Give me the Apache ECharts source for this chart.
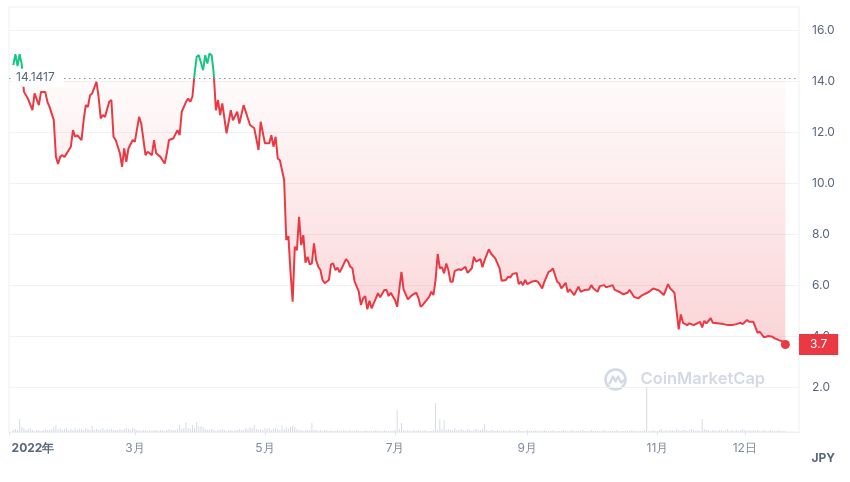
<!DOCTYPE html>
<html>
<head>
<meta charset="utf-8">
<script src="https://cdn.jsdelivr.net/npm/echarts@6/dist/echarts.min.js"></script>
<style>
html,body{margin:0;padding:0;background:#fff;}
#c{width:850px;height:482px;}
</style>
</head>
<body>
<div id="c"></div>
<script>
// ---- data ----
var priceDates = [
'2022-01-03','2022-01-04','2022-01-05','2022-01-06','2022-01-07','2022-01-08','2022-01-10','2022-01-12','2022-01-13','2022-01-15',
'2022-01-16','2022-01-18','2022-01-19','2022-01-20','2022-01-22','2022-01-23','2022-01-24','2022-01-25','2022-01-26','2022-01-27',
'2022-01-30','2022-01-31','2022-02-01','2022-02-02','2022-02-04','2022-02-05','2022-02-06','2022-02-07','2022-02-08','2022-02-09',
'2022-02-11','2022-02-12','2022-02-13','2022-02-14','2022-02-15','2022-02-17','2022-02-18','2022-02-19','2022-02-20','2022-02-22',
'2022-02-23','2022-02-24','2022-02-25','2022-02-26','2022-02-28','2022-03-01','2022-03-03','2022-03-04','2022-03-06','2022-03-07',
'2022-03-09','2022-03-10','2022-03-11','2022-03-13','2022-03-15','2022-03-16','2022-03-17','2022-03-19','2022-03-21','2022-03-22',
'2022-03-23','2022-03-25','2022-03-26','2022-03-27','2022-03-28','2022-03-29','2022-03-30','2022-03-31','2022-04-02','2022-04-03',
'2022-04-04','2022-04-05','2022-04-06','2022-04-07','2022-04-08','2022-04-09','2022-04-10','2022-04-11','2022-04-13','2022-04-15',
'2022-04-16','2022-04-18','2022-04-19','2022-04-21','2022-04-22','2022-04-24','2022-04-26','2022-04-28','2022-04-29','2022-05-01',
'2022-05-03','2022-05-04','2022-05-05','2022-05-06','2022-05-07','2022-05-08','2022-05-10','2022-05-11','2022-05-12','2022-05-13',
'2022-05-14','2022-05-15','2022-05-16','2022-05-17','2022-05-18','2022-05-19','2022-05-20','2022-05-21','2022-05-22','2022-05-23',
'2022-05-24','2022-05-25','2022-05-26','2022-05-27','2022-05-28','2022-05-29','2022-05-31','2022-06-01','2022-06-02','2022-06-03',
'2022-06-04','2022-06-05','2022-06-06','2022-06-08','2022-06-09','2022-06-10','2022-06-11','2022-06-12','2022-06-14','2022-06-15',
'2022-06-16','2022-06-17','2022-06-18','2022-06-19','2022-06-20','2022-06-22','2022-06-23','2022-06-24','2022-06-26','2022-06-27',
'2022-06-28','2022-06-29','2022-07-01','2022-07-02','2022-07-04','2022-07-05','2022-07-07','2022-07-09','2022-07-11','2022-07-12',
'2022-07-13','2022-07-14','2022-07-17','2022-07-18','2022-07-19','2022-07-20','2022-07-21','2022-07-22','2022-07-23','2022-07-24',
'2022-07-25','2022-07-26','2022-07-27','2022-07-28','2022-07-29','2022-07-31','2022-08-01','2022-08-03','2022-08-04','2022-08-06',
'2022-08-07','2022-08-08','2022-08-10','2022-08-11','2022-08-12','2022-08-14','2022-08-15','2022-08-17','2022-08-19','2022-08-20',
'2022-08-22','2022-08-23','2022-08-24','2022-08-25','2022-08-27','2022-08-28','2022-08-29','2022-08-30','2022-08-31','2022-09-01',
'2022-09-03','2022-09-05','2022-09-06','2022-09-08','2022-09-09','2022-09-11','2022-09-12','2022-09-13','2022-09-15','2022-09-16',
'2022-09-17','2022-09-19','2022-09-20','2022-09-21','2022-09-23','2022-09-25','2022-09-26','2022-09-28','2022-09-30','2022-10-01',
'2022-10-02','2022-10-04','2022-10-05','2022-10-07','2022-10-08','2022-10-11','2022-10-12','2022-10-14','2022-10-16','2022-10-18',
'2022-10-19','2022-10-21','2022-10-23','2022-10-25','2022-10-28','2022-10-30','2022-11-01','2022-11-02','2022-11-04','2022-11-06',
'2022-11-07','2022-11-09','2022-11-11','2022-11-12','2022-11-13','2022-11-15','2022-11-16','2022-11-18','2022-11-21','2022-11-22',
'2022-11-23','2022-11-24','2022-11-26','2022-11-27','2022-11-29','2022-12-02','2022-12-04','2022-12-06','2022-12-08','2022-12-10',
'2022-12-11','2022-12-13','2022-12-14','2022-12-16','2022-12-18','2022-12-19','2022-12-21','2022-12-23','2022-12-25','2022-12-26',
'2022-12-28','2022-12-30','2022-12-31'
];
var priceValues = [
14.64,15.07,14.6,15.07,14.66,13.6,13.3,12.87,13.53,13.07,
13.59,13.59,13.2,13.0,12.48,11.04,10.76,11.04,11.11,11.03,
11.44,12.09,11.83,11.89,11.7,12.48,13.07,13.0,13.46,13.53,
13.98,13.4,12.55,12.68,12.61,13.2,13.27,11.83,11.7,11.18,
10.65,11.37,10.85,11.37,11.7,11.63,12.61,12.35,11.11,11.24,
11.11,11.7,11.18,11.04,10.78,11.18,11.7,11.76,12.09,11.89,
12.81,13.2,13.33,13.2,13.4,14.3,14.97,15.03,14.44,15.03,
14.7,15.1,15.03,14.31,12.87,13.27,12.68,13.14,11.96,12.87,
12.48,12.81,12.35,13.07,12.81,12.29,12.16,11.31,12.42,11.57,
11.57,11.89,11.44,11.83,10.98,10.91,10.13,7.78,7.93,6.5,
5.36,7.51,7.38,8.69,7.58,7.97,6.89,7.12,6.82,6.86,
7.65,6.99,6.73,6.6,6.21,6.08,6.21,6.82,6.86,6.6,
6.69,6.51,6.67,7.03,6.93,6.73,6.67,6.17,5.75,5.23,
5.49,5.58,5.06,5.4,5.1,5.49,5.69,5.53,5.82,5.82,
5.58,5.71,5.42,5.16,6.53,5.84,5.45,5.62,5.71,5.49,
5.16,5.23,5.55,5.75,5.62,6.21,7.23,6.67,6.71,6.47,
6.86,6.6,6.14,6.14,6.57,6.63,6.6,6.73,6.49,6.67,
7.12,6.93,7.03,6.71,6.99,7.41,7.25,7.06,6.67,6.18,
6.21,6.34,6.3,6.44,6.49,6.05,6.14,6.01,6.21,6.05,
6.14,6.18,6.14,5.88,6.14,6.53,6.57,6.67,6.14,6.08,
5.88,6.1,5.73,5.84,5.62,5.95,5.75,5.82,5.84,6.01,
5.88,5.75,5.97,6.01,5.92,6.01,5.82,5.75,5.65,5.71,
5.82,5.55,5.49,5.62,5.74,5.88,5.82,5.78,5.62,6.05,
5.88,5.71,4.27,4.86,4.53,4.44,4.51,4.44,4.57,4.35,
4.61,4.51,4.71,4.53,4.51,4.48,4.44,4.44,4.48,4.53,
4.48,4.64,4.57,4.57,4.14,4.18,3.96,4.01,3.98,3.92,
3.85,3.79,3.68
];
var baselinePrice = 14.1417;

// daily volume (relative units), first bar on volumeStart
var volumeStart = '2022-01-03';
var volumes = [
2,3,2,13,5,4,2,3,4,
2,1,2,2,1,2,3,2,2,3,
5,7,3,4,2,3,4,2,3,2,
4,2,3,3,2,4,3,2,6,2,
3,2,3,4,2,3,2,3,2,2,
2,3,2,3,4,3,2,4,3,2,
2,1,2,2,1,2,1,2,2,1,
2,2,1,2,3,2,2,2,3,7,
3,4,10,4,3,7,4,10,6,6,
5,3,2,2,3,2,1,2,2,3,
2,1,2,2,1,2,2,3,2,2,
4,3,5,4,7,3,2,3,2,4,
3,4,2,3,4,3,2,7,3,5,
3,5,6,5,3,2,2,1,2,2,
2,9,2,2,1,2,1,2,2,1,
2,1,1,2,1,1,2,1,1,2,
1,1,2,1,1,1,2,1,1,1,
1,2,1,1,1,2,1,1,1,1,
2,22,3,9,2,1,2,1,1,2,
1,2,1,1,2,1,1,1,2,29,
2,13,3,12,2,3,2,2,4,2,
2,3,2,1,3,2,1,2,3,2,
2,3,8,2,1,2,2,1,2,1,
1,2,1,1,2,1,1,1,2,1,
1,1,2,1,1,1,2,1,1,1,
2,1,1,1,2,1,1,1,1,2,
1,1,1,2,1,1,1,1,2,1,
1,1,2,1,1,1,1,1,2,1,
1,1,1,1,2,1,1,1,1,1,
1,2,1,1,1,1,1,2,45,1,
1,2,1,1,2,3,1,2,1,2,
2,1,3,2,1,2,2,1,2,3,
2,1,2,1,13,3,2,2,1,2,
2,1,2,2,1,2,3,1,2,1,
2,1,2,3,2,1,2,1,2,1,
2,1,1,2,1,1,2,1,1,1,2,1,1,1
];

var xTickDates = ['2022-01-01','2022-03-01','2022-05-01','2022-07-01','2022-09-01','2022-11-01','2022-12-12'];
var xTickLabels = ['2022年','3月','5月','7月','9月','11月','12日'];

// ---- build ----
var T0 = Date.UTC(2022, 0, 1);
function dayOf(s) { return Math.round((Date.parse(s) - T0) / 86400000); }

var priceData = priceDates.map(function (d, i) { return [dayOf(d), priceValues[i]]; });
var v0 = dayOf(volumeStart);
var volData = volumes.map(function (v, i) { return [v0 + i, v]; });
var tickDays = xTickDates.map(dayOf);
var last = priceData[priceData.length - 1];

var RED = '#ea3943', GREEN = '#16c784';
var FONT = 'Inter, "Noto Sans", sans-serif';
var X_MAX = 370.4;
var H = 482;

var chart = echarts.init(document.getElementById('c'), null, { renderer: 'canvas' });
chart.setOption({
  animation: false,
  textStyle: { fontFamily: FONT },
  grid: [
    { left: 9, right: 51, top: 7, bottom: 43.7 },
    { left: 9, right: 51, top: 7, bottom: 50, show: true, borderColor: '#eceff3', borderWidth: 1, backgroundColor: 'rgba(0,0,0,0)' }
  ],
  xAxis: [
    { type: 'value', gridIndex: 0, min: 0, max: X_MAX, show: false },
    {
      type: 'value', gridIndex: 1, min: 0, max: X_MAX,
      splitLine: { show: false },
      axisLine: { show: true, lineStyle: { color: '#eceff3' } },
      axisTick: { show: true, customValues: tickDays, length: 3, lineStyle: { color: '#e2e6ec' } },
      axisLabel: {
        customValues: tickDays, margin: 10, fontSize: 12, color: '#808a9d', fontFamily: FONT,
        formatter: function (v) {
          var i = tickDays.indexOf(Math.round(v));
          if (i < 0) return '';
          return i === 0 ? '{first|' + xTickLabels[i] + '}' : xTickLabels[i];
        },
        rich: { first: { fontWeight: 'bold', color: '#58667e', fontSize: 12, fontFamily: FONT, padding: [0, 0, 0, 48] } }
      }
    }
  ],
  yAxis: [
    {
      type: 'value', gridIndex: 0, position: 'right', min: 0, max: 16.92, interval: 2,
      axisLine: { show: false }, axisTick: { show: false },
      splitLine: { show: true, showMinLine: false, showMaxLine: false, lineStyle: { color: '#f0f2f5', width: 1 } },
      axisLabel: {
        showMinLabel: false, showMaxLabel: false, margin: 13, fontSize: 12, color: '#58667e', fontFamily: FONT,
        formatter: function (v) { return v.toFixed(1); }
      }
    },
    { type: 'value', gridIndex: 1, min: 0, max: 425, show: false }
  ],
  series: [
    {
      id: 'price', type: 'line', xAxisIndex: 0, yAxisIndex: 0, data: priceData,
      showSymbol: false, symbol: 'none', z: 2,
      lineStyle: { width: 2, color: RED },
      areaStyle: {
        origin: baselinePrice,
        color: new echarts.graphic.LinearGradient(0, 0, 0, 1, [
          { offset: 0, color: 'rgba(234,57,67,0)' },
          { offset: 1, color: 'rgba(234,57,67,0.31)' }
        ])
      },
      markLine: {
        silent: true, symbol: ['none', 'none'], animation: false, z: 10,
        data: [
          {
            yAxis: baselinePrice,
            lineStyle: { type: [1.5, 3.5], color: '#8a94a8', width: 1 },
            label: {
              show: true, position: 'insideStart', distance: [3, 0],
              formatter: String(baselinePrice), color: '#58667e', fontSize: 12, fontFamily: FONT,
              backgroundColor: '#ffffff', padding: [3, 9, 3, 4]
            }
          },
          {
            yAxis: last[1],
            lineStyle: { color: 'rgba(0,0,0,0)', width: 1, type: 'solid' },
            label: {
              show: true, position: 'end', distance: [0, 0],
              formatter: last[1].toFixed(1), color: '#ffffff', fontSize: 12, fontFamily: FONT,
              backgroundColor: RED, padding: [4, 11], lineHeight: 13
            }
          }
        ]
      },
      markPoint: {
        silent: true, animation: false, z: 11,
        symbol: 'circle', symbolSize: 9,
        itemStyle: { color: RED },
        label: { show: false },
        data: [{ coord: last }]
      }
    },
    {
      type: 'bar', xAxisIndex: 1, yAxisIndex: 1, data: volData,
      barWidth: 1, itemStyle: { color: '#d6dbe3' }, silent: true, z: 1
    }
  ],
  graphic: [
    { type: 'text', right: 15, top: 452, style: { text: 'JPY', fontSize: 12, fontWeight: 'bold', fill: '#58667e', fontFamily: FONT } },
    {
      type: 'group', left: 603, top: 367, silent: true,
      children: [
        { type: 'circle', shape: { cx: 11, cy: 11, r: 10 }, style: { fill: 'none', stroke: '#d3d9e6', lineWidth: 2.6 } },
        { type: 'polyline', shape: { points: [[5, 15], [8.5, 8], [11, 13], [13.5, 8], [16.5, 14], [19, 12]] }, style: { fill: 'none', stroke: '#d3d9e6', lineWidth: 2.4, lineJoin: 'round', lineCap: 'round' } },
        { type: 'text', x: 36, y: 11, style: { text: 'CoinMarketCap', fontSize: 16.5, fontWeight: 600, fill: '#d3d9e6', fontFamily: FONT, textVerticalAlign: 'middle' } }
      ]
    }
  ]
});

// colour the line green above the baseline and red below it (split at the baseline's pixel position)
var by = chart.convertToPixel({ yAxisIndex: 0 }, baselinePrice);
var f = by / H;
chart.setOption({
  series: [{
    id: 'price',
    lineStyle: {
      color: new echarts.graphic.LinearGradient(0, 0, 0, H, [
        { offset: 0, color: GREEN }, { offset: f, color: GREEN },
        { offset: f, color: RED }, { offset: 1, color: RED }
      ], true)
    }
  }]
});
</script>
</body>
</html>
